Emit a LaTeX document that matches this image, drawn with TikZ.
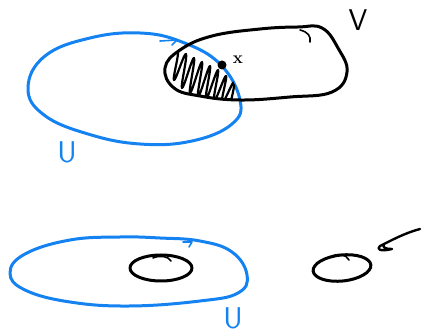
\documentclass[tikz,border=0pt]{standalone}
\usetikzlibrary{arrows.meta}
\definecolor{pen}{RGB}{20,130,240}
\begin{document}
\begin{tikzpicture}[x=1pt,y=-1pt,line cap=round,line join=round,
  bluepen/.style={draw=pen,line width=3pt},
  blackpen/.style={draw=black,line width=3pt},
  lbl/.style={inner sep=0pt,font=\fontsize{30}{30}\selectfont\sffamily}]
\useasboundingbox (0,0) rectangle (424,336);
% top blue set U
\def\Upath{plot[smooth cycle,tension=0.7] coordinates {(28,88) (45,56) (90,38) (140,33) (182,42) (220,64) (240,100) (232,124) (192,141) (140,144) (88,134) (44,115)}}
\def\Vpath{plot[smooth cycle,tension=0.7] coordinates {(165,68) (180,50) (212,36) (260,29) (298,27) (322,28) (338,48) (347,72) (332,92) (290,97) (240,100) (200,96) (174,88)}}
\draw[bluepen] \Upath;
\draw[bluepen,line width=1.6pt] (160,41) -- (177,40) -- (172,45);
\draw[blackpen] \Vpath;
\draw[blackpen,line width=1.6pt] (300,30) .. controls (308,32) and (311,36) .. (310,42);
% hatching of the intersection
\begin{scope}
\clip \Upath;
\clip \Vpath;
\draw[blackpen,line width=2.2pt] plot[smooth,tension=0.8] coordinates {
(168,60) (178,50) (174,80) (186,54) (182,88) (194,58) (190,93) (202,62) (198,97) (210,66) (206,99) (218,70) (214,101) (226,76) (222,103) (234,82) (230,105)};
\end{scope}
\fill (222,65) circle (4.5);
\node[inner sep=0pt,font=\fontsize{17}{17}\selectfont\bfseries] (x) at (238,60) {x};
\node[lbl,text=black] (V) at (358,20) {V};
\node[lbl,text=pen] (U1) at (67,152) {U};
% bottom
\draw[bluepen] plot[smooth cycle,tension=0.7] coordinates {(10,273) (25,254) (70,240) (120,237) (160,238) (200,241) (232,252) (247,275) (238,293) (200,301) (130,306) (70,302) (25,290)};
\draw[bluepen,line width=1.6pt] (183,242) -- (192,242) -- (189,247);
\draw[blackpen] (161,268) ellipse [x radius=31,y radius=13];
\draw[blackpen,line width=1.6pt] (153,258) .. controls (160,255) and (168,256) .. (171,261);
\draw[blackpen] (342,268) [rotate around={6:(342,268)}] ellipse [x radius=29,y radius=13];
\draw[blackpen,line width=1.6pt] (330,257) .. controls (338,253) and (346,254) .. (349,260);
\node[lbl,text=pen] (U2) at (233,318) {U};
\coordinate (tail) at (420,229);
\coordinate (head) at (380,246);
\draw[blackpen,line width=2.4pt] (tail) .. controls (405,233) and (392,240) .. (head) .. controls (376,249) and (380,252) .. (392,249) .. controls (386,249) and (382,248) .. (384,244);
\end{tikzpicture}
\end{document}
